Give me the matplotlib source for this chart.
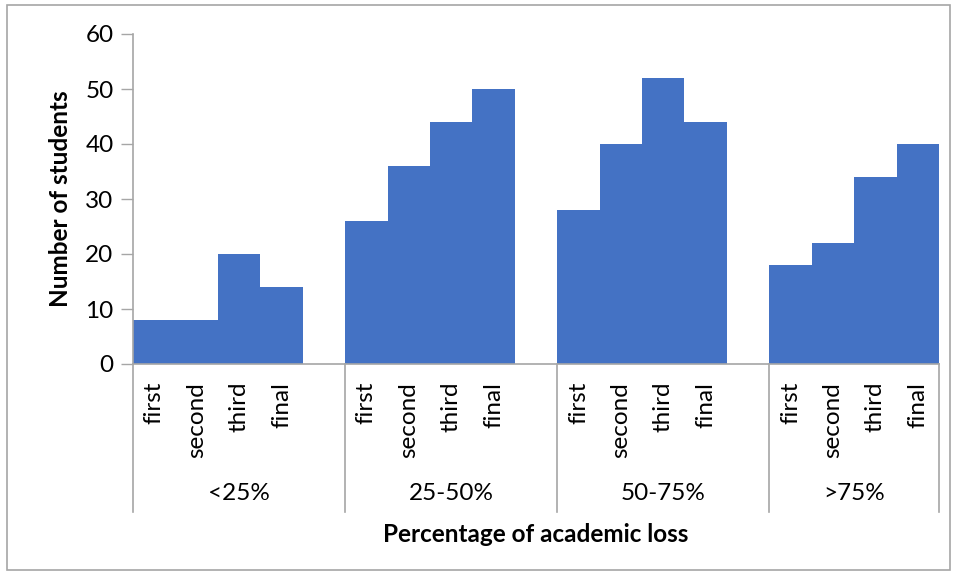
import matplotlib
matplotlib.use("Agg")
import matplotlib.pyplot as plt
from matplotlib.patches import Rectangle
from matplotlib.transforms import blended_transform_factory

plt.rcParams['font.family'] = ['Lato', 'DejaVu Sans']

groups = ["<25%", "25-50%", "50-75%", ">75%"]
stages = ["first", "second", "third", "final"]
students = {
    "<25%": [8, 8, 20, 14],
    "25-50%": [26, 36, 44, 50],
    "50-75%": [28, 40, 52, 44],
    ">75%": [18, 22, 34, 40],
}
y_ticks = [0, 10, 20, 30, 40, 50, 60]

W, H = 956, 578
fig = plt.figure(figsize=(W / 100, H / 100), dpi=100)
FS = 17.5

# outer chart-area border
fig.patches.append(Rectangle((7 / W, 1 - 570 / H), (950 - 7) / W, (570 - 5) / H,
                             transform=fig.transFigure, fill=False,
                             edgecolor="#A6A6A6", linewidth=1.2))

ax_l, ax_r, ax_t, ax_b = 133, 939, 34, 364
ax = fig.add_axes([ax_l / W, 1 - ax_b / H, (ax_r - ax_l) / W, (ax_b - ax_t) / H])

slot = len(stages) + 1  # one empty slot between groups
n_slots = slot * len(groups) - 1
blue = "#4472C4"
for g, name in enumerate(groups):
    xs = [g * slot + i for i in range(len(stages))]
    ax.bar(xs, students[name], width=1.0, color=blue, edgecolor="none",
           linewidth=0)

ax.set_xlim(-0.5, n_slots - 0.5)
ax.set_ylim(0, 60)
ax.set_yticks(y_ticks)
ax.tick_params(axis="y", direction="out", length=9, width=1, color="#A6A6A6",
               labelsize=FS, labelcolor="#000000", pad=5)
ax.set_xticks([])
for s in ["top", "right"]:
    ax.spines[s].set_visible(False)
for s in ["left", "bottom"]:
    ax.spines[s].set_color("#A6A6A6")
    ax.spines[s].set_linewidth(1.2)

trans = blended_transform_factory(ax.transData, ax.transAxes)
sep_bottom = -(512 - ax_b) / (ax_b - ax_t)
sub_y = -(382 - ax_b) / (ax_b - ax_t)
grp_y = -(494 - ax_b) / (ax_b - ax_t)

# category separators
bounds = [g * slot - 0.5 for g in range(len(groups))] + [n_slots - 0.5]
for b in bounds:
    ax.plot([b, b], [0, sep_bottom], transform=trans, clip_on=False,
            color="#A6A6A6", linewidth=1.2)

for g, name in enumerate(groups):
    for i, st in enumerate(stages):
        ax.text(g * slot + i, sub_y, st, transform=trans, rotation=90,
                ha="center", va="top", fontsize=FS, color="#000000")
    lo = bounds[g]
    hi = bounds[g + 1]
    ax.text((lo + hi) / 2, grp_y, name, transform=trans, ha="center",
            va="center", fontsize=FS, color="#000000")

fig.text((ax_l + ax_r) / 2 / W, 1 - 535 / H, "Percentage of academic loss",
         ha="center", va="center", fontsize=FS, fontweight="bold")
fig.text(60 / W, 1 - (ax_t + ax_b) / 2 / H, "Number of students", rotation=90,
         ha="center", va="center", fontsize=FS, fontweight="bold")

fig.savefig("out.png", dpi=100)
